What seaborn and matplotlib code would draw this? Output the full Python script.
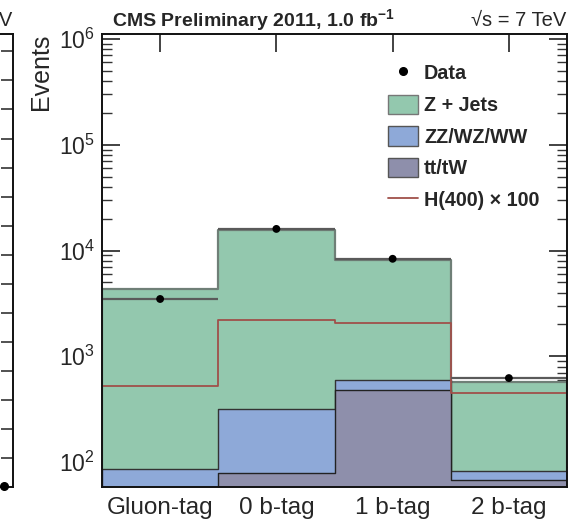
import numpy as np
import pandas as pd
import matplotlib
matplotlib.use("Agg")
import matplotlib.pyplot as plt
import seaborn as sns
from matplotlib.patches import Patch
from matplotlib.lines import Line2D
from matplotlib.ticker import LogLocator, FixedLocator, NullFormatter

# Event yields per jet-tag category
categories = ["Gluon-tag", "0 b-tag", "1 b-tag", "2 b-tag"]
data_events = [3480, 16000, 8350, 622]
zjets = [4240, 15180, 7600, 488]
diboson = [46, 238, 116, 14]
ttbar = [40, 79, 480, 68]
higgs400_x100 = [524, 2200, 2062, 449]

# Neighbouring panel (only its right edge is in frame)
side_x = [0.97]
side_y = [0.05]

sns.set_theme(style="ticks")
plt.rcParams["font.family"] = ["Liberation Sans", "DejaVu Sans"]
plt.rcParams["mathtext.fontset"] = "custom"
plt.rcParams["mathtext.rm"] = "Liberation Sans"
plt.rcParams["mathtext.bf"] = "Liberation Sans:bold"
plt.rcParams["mathtext.it"] = "Liberation Sans:italic"

C_ZJ = "#93c8ae"
C_VV = "#8ea9d8"
C_TT = "#8e8fab"
C_H = "#a0504a"

W, H = 582, 519
fig = plt.figure(figsize=(W / 100, H / 100), dpi=100)


def fx(px):
    return px / W


def fy(py):
    return 1 - py / H


ax = fig.add_axes([fx(102), fy(487), fx(567) - fx(102), fy(34) - fy(487)])
ax.set_yscale("log")

n = len(categories)
edges = [float(e) for e in range(n + 1)]
centers = np.arange(n) + 0.5

tt = np.array(ttbar, float)
vv_tt = tt + np.array(diboson, float)
total = vv_tt + np.array(zjets, float)

# stacked backgrounds, drawn from the top of the stack down
for cum, col, ec, lw in [(total, C_ZJ, "#6f7f77", 1.6),
                         (vv_tt, C_VV, "#333333", 1.0),
                         (tt, C_TT, "#222222", 1.0)]:
    layer = pd.DataFrame({"pos": centers, "events": cum})
    sns.histplot(data=layer, x="pos", weights="events", bins=edges,
                 element="step", fill=True, color=col, alpha=1,
                 edgecolor=ec, linewidth=lw, ax=ax)

# signal x100
sig = pd.DataFrame({"pos": centers, "events": higgs400_x100})
sns.histplot(data=sig, x="pos", weights="events", bins=edges, element="step",
             fill=False, color=C_H, linewidth=1.3, ax=ax)

# data with bin-width horizontal bars
d = np.array(data_events, float)
ax.errorbar(centers, d, xerr=0.5, yerr=np.sqrt(d), fmt="none",
            ecolor="#5a5a5a", elinewidth=1.6, capsize=0, zorder=4)
sns.scatterplot(x=centers, y=d, color="black", s=32, edgecolor="none",
                zorder=5, ax=ax)

ax.set_xlim(0, n)
ax.set_ylim(10 ** 1.764, 10 ** 6.047)
ax.set_ylabel("Events", fontsize=18, loc="top", labelpad=4)
ax.set_xlabel("")

ax.set_xticks(centers)
ax.set_xticklabels(categories)
ax.xaxis.set_minor_locator(FixedLocator([]))
ax.tick_params(axis="x", which="major", direction="in", length=13, width=1.2,
               top=True, bottom=True, labelsize=17.5, pad=7, color="#222222")
ax.yaxis.set_major_locator(LogLocator(base=10, numticks=20))
ax.yaxis.set_minor_locator(LogLocator(base=10, subs=np.arange(2, 10), numticks=100))
ax.yaxis.set_minor_formatter(NullFormatter())
ax.tick_params(axis="y", which="major", direction="in", length=13, width=1.2,
               left=True, right=True, labelsize=16.5, pad=5, color="#222222")
ax.tick_params(axis="y", which="minor", direction="in", length=7, width=1.0,
               left=True, right=True, color="#333333")
for s in ax.spines.values():
    s.set_linewidth(1.4)
    s.set_color("#111111")
    s.set_zorder(6)

handles = [
    Line2D([], [], marker="o", ls="none", color="black", markersize=5.5),
    Patch(facecolor=C_ZJ, edgecolor="#777777", linewidth=1),
    Patch(facecolor=C_VV, edgecolor="#555555", linewidth=1),
    Patch(facecolor=C_TT, edgecolor="#555555", linewidth=1),
    Line2D([], [], color=C_H, lw=1.3),
]
labels = ["Data", "Z + Jets", "ZZ/WZ/WW", "tt/tW", "H(400) × 100"]
fig.legend(handles, labels, loc="upper left",
           bbox_to_anchor=(fx(388), fy(63)), bbox_transform=fig.transFigure,
           frameon=False, borderpad=0, borderaxespad=0,
           handlelength=1.52, handleheight=1.12, handletextpad=0.3,
           labelspacing=0.58, prop={"weight": "bold", "size": 14.2})

fig.text(fx(112), fy(26), r"CMS Preliminary 2011, 1.0 fb$^{\mathbf{-1}}$",
         fontsize=14.0, fontweight="bold", ha="left", va="baseline")
fig.text(fx(566), fy(26), "√s = 7 TeV", fontsize=14.5, ha="right",
         va="baseline")

# right edge of the neighbouring panel
axl = fig.add_axes([fx(-300), fy(487), fx(13) - fx(-300), fy(34) - fy(487)])
axl.set_xlim(0, 1)
axl.set_ylim(0, 15.6)
axl.set_xticks([])
axl.yaxis.set_major_locator(FixedLocator(np.arange(1, 16)))
axl.tick_params(axis="y", which="major", direction="in", length=9, width=1.1,
                left=False, right=True, labelleft=False, color="#222222")
for s in axl.spines.values():
    s.set_linewidth(1.4)
    s.set_color("#111111")
axl.scatter(side_x, side_y, s=30, color="black", zorder=5, clip_on=False)
fig.text(fx(12.5), fy(26), "√s = 7 TeV", fontsize=14.5, ha="right",
         va="baseline")

fig.savefig("out.png", dpi=100)
